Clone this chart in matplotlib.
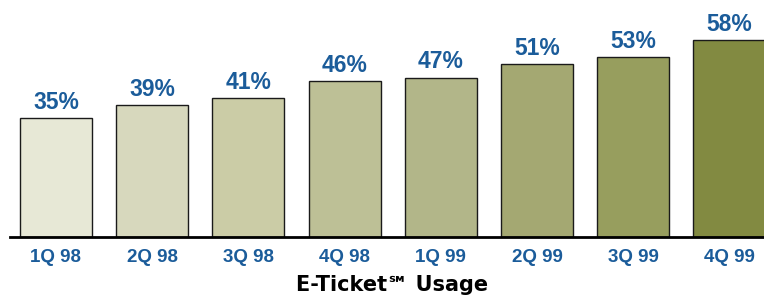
import matplotlib
matplotlib.use("Agg")
import matplotlib.pyplot as plt
import numpy as np

# data
quarters = ["1Q 98", "2Q 98", "3Q 98", "4Q 98", "1Q 99", "2Q 99", "3Q 99", "4Q 99"]
usage = [35, 39, 41, 46, 47, 51, 53, 58]
bar_colors = ["#e7e8d6", "#d7d8bd", "#cbcca6", "#bdc096", "#b2b689",
              "#a4a872", "#979e5e", "#828a41"]
label_blue = "#1b5c9a"

fig = plt.figure(figsize=(7.64, 2.95), dpi=100)
ax = fig.add_axes([10 / 764, 58 / 295, 754 / 764, 237 / 295])

x = np.arange(len(quarters))
ax.bar(x, usage, width=0.75, color=bar_colors, edgecolor="#1a1a1a",
       linewidth=1.0, zorder=2)

# value labels above bars
for xi, v in zip(x, usage):
    ax.annotate(f"{v}%", (xi, v), xytext=(0, 3), textcoords="offset points",
                ha="center", va="bottom", fontsize=16.5, fontweight="bold",
                color=label_blue, family="Liberation Sans")

ax.set_xlim(-0.478, 7.36)
ax.set_ylim(0, 69.9)

for s in ["top", "right", "left"]:
    ax.spines[s].set_visible(False)
ax.spines["bottom"].set_linewidth(2.0)
ax.spines["bottom"].set_color("black")
ax.set_yticks([])
ax.set_xticks(x)
ax.set_xticklabels(quarters, fontsize=13.5, fontweight="bold",
                   color=label_blue, family="Liberation Sans")
ax.tick_params(axis="x", length=0, pad=9)

fig.text(392 / 764, 1 - 285 / 295, "E-Ticket\u2120 Usage", ha="center",
         va="center", fontsize=15, fontweight="bold", color="black",
         family="DejaVu Sans")

fig.savefig("out.png", dpi=100)
